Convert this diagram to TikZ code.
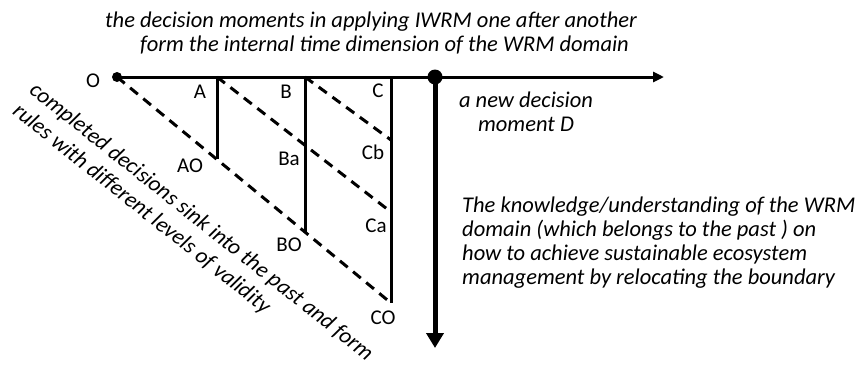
\documentclass[tikz,border=0pt]{standalone}
\usepackage{fontspec}
\setmainfont{Carlito}
\usetikzlibrary{positioning,arrows.meta}

\begin{document}
\begin{tikzpicture}[x=1pt,y=-1pt,
    axis/.style={line width=3pt},
    past/.style={line width=3pt,dash pattern=on 10pt off 7pt},
    lbl/.style={font=\fontsize{21}{24}\selectfont,inner sep=0pt},
    note/.style={font=\fontsize{22.5}{24}\selectfont\itshape,inner sep=0pt}]
    \useasboundingbox (0,0) rectangle (859,365);

    % Decision moments on the time axis
    \coordinate (O) at (117,77);
    \coordinate (A) at (217,77);
    \coordinate (B) at (305,77);
    \coordinate (C) at (391,77);
    \coordinate (D) at (435,77);
    \coordinate (tend) at (664,77);
    % Completed decisions sunk below the axis
    \coordinate (AO) at (217,159);
    \coordinate (BO) at (305,232);
    \coordinate (CO) at (391,303);
    \coordinate (Ba) at (305,146);
    \coordinate (Ca) at (391,212);
    \coordinate (Cb) at (391,140);
    \coordinate (Dend) at (435,348);

    % Time axis and the new decision moment
    \draw[axis,-{Triangle[length=11pt,width=10pt]}] (O) -- (tend);
    \draw[line width=5pt,-{Triangle[length=15pt,width=17pt]}] (D) -- (Dend);
    \fill (O) circle (5pt);
    \fill (D) circle (7.5pt);

    % Decisions A, B, C
    \draw[axis] (A) -- (AO);
    \draw[axis] (B) -- (BO);
    \draw[axis] (C) -- (CO);
    \draw[past] (O) -- (CO);
    \draw[past] (A) -- (Ca);
    \draw[past] (B) -- (Cb);

    % Point labels
    \node[lbl] (lO) at (93,81) {O};
    \node[lbl] (lA) at (200,92) {A};
    \node[lbl] (lB) at (286,92) {B};
    \node[lbl] (lC) at (378,91) {C};
    \node[lbl] (lAO) at (190,166) {AO};
    \node[lbl] (lBa) at (289,159) {Ba};
    \node[lbl] (lCb) at (373,152) {Cb};
    \node[lbl] (lBO) at (289,245) {BO};
    \node[lbl] (lCa) at (376,226) {Ca};
    \node[lbl] (lCO) at (383,318) {CO};

    % Texts
    \node[note,anchor=north west,align=left] (title) at (105,12)
        {the decision moments in applying IWRM one after another\\
         \hspace*{35pt}form the internal time dimension of the WRM domain};
    \node[note,anchor=north,align=center] (newD) at (526,92)
        {a new decision\\moment D};
    \node[note,anchor=north west,align=left] (know) at (462,197)
        {The knowledge/understanding of the WRM\\
         domain (which belongs to the past ) on\\
         how to achieve sustainable ecosystem\\
         management by relocating the boundary};
    \node[note,font=\fontsize{22.5}{27}\selectfont\itshape,anchor=north west,align=left,rotate=-38.5] (sink) at (38,80)
        {completed decisions sink into the past and form\\
         rules with different levels of validity};
\end{tikzpicture}
\end{document}
